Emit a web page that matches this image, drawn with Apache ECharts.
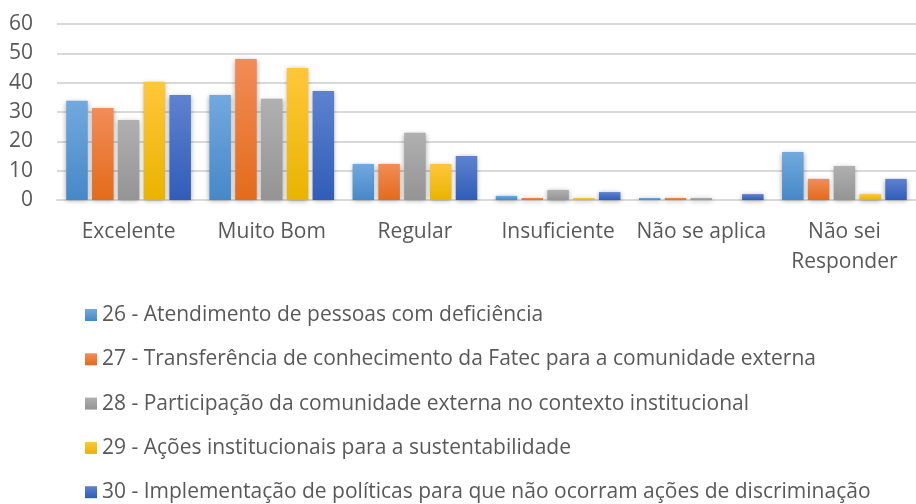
<!DOCTYPE html>
<html>
<head>
<meta charset="utf-8">
<script src="https://cdn.jsdelivr.net/npm/echarts@6/dist/echarts.min.js"></script>
<style>
    html, body { margin: 0; padding: 0; background: #fff; }
    #chart { width: 916px; height: 504px; }
</style>
</head>
<body>
<div id="chart"></div>
<script>
// categorias do eixo x
var categories = ['Excelente', 'Muito Bom', 'Regular', 'Insuficiente', 'Não se aplica', 'Não sei\nResponder'];

// nomes das séries (legenda)
var seriesNames = [
    '26 - Atendimento de pessoas com deficiência',
    '27 - Transferência de conhecimento da Fatec para a comunidade externa',
    '28 - Participação da comunidade externa no contexto institucional',
    '29 - Ações institucionais para a sustentabilidade',
    '30 - Implementação de políticas para que não ocorram ações de discriminação'
];

// valores
var q26 = [33.8, 35.8, 12.3, 1.4, 0.7, 16.4];
var q27 = [31.4, 48.1, 12.3, 0.7, 0.7, 7.2];
var q28 = [27.3, 34.5, 22.9, 3.4, 0.7, 11.6];
var q29 = [40.3, 45.0, 12.3, 0.7, 0, 2.0];
var q30 = [35.8, 37.2, 15.0, 2.7, 2.0, 7.2];

var yTicks = [0, 10, 20, 30, 40, 50, 60];

var seriesData = [q26, q27, q28, q29, q30];
// cores de cada série: topo e base do gradiente
var colorTop = ['#72a9de', '#f28c57', '#b0b0b0', '#ffc73a', '#5e82cf'];
var colorBottom = ['#4688c8', '#e36b1b', '#949494', '#e8b400', '#2f5db8'];

var FONT = 'Open Sans';

var chartDom = document.getElementById('chart');
var myChart = echarts.init(chartDom, null, {renderer: 'canvas'});

function gradient(i) {
    return new echarts.graphic.LinearGradient(0, 0, 0, 1, [
        {offset: 0, color: colorTop[i]},
        {offset: 1, color: colorBottom[i]}
    ]);
}

function buildSeries() {
    let list = [];
    for (let i = 0; i < seriesData.length; i++) {
        list.push({
            name: seriesNames[i],
            type: 'bar',
            data: seriesData[i],
            barWidth: 21.5,
            barGap: '20%',
            itemStyle: {
                color: gradient(i),
                shadowBlur: 5,
                shadowColor: 'rgba(0,0,0,0.35)',
                shadowOffsetY: 1
            }
        });
    }
    return list;
}

var option = {
    animation: false,
    backgroundColor: '#ffffff',
    textStyle: {fontFamily: FONT},
    grid: {
        left: 57,
        width: 866,
        top: 24,
        bottom: 304
    },
    legend: {
        orient: 'vertical',
        left: 80,
        top: 298,
        height: 210,
        itemWidth: 12,
        itemHeight: 12,
        itemGap: 20.3,
        icon: 'rect',
        data: seriesNames.map(function (n, i) {
            return {name: n, itemStyle: {color: gradient(i)}};
        }),
        textStyle: {
            fontFamily: FONT,
            fontSize: 21,
            lineHeight: 24,
            color: '#595959'
        }
    },
    xAxis: {
        type: 'category',
        data: categories,
        axisLine: {lineStyle: {color: '#d9d9d9', width: 2}},
        axisTick: {show: false},
        axisLabel: {
            color: '#595959',
            fontFamily: FONT,
            fontSize: 21,
            lineHeight: 30,
            margin: 17,
            interval: 0
        }
    },
    yAxis: {
        type: 'value',
        min: yTicks[0],
        max: yTicks[yTicks.length - 1],
        interval: 10,
        axisLine: {show: false},
        axisTick: {show: false},
        splitLine: {lineStyle: {color: '#d9d9d9', width: 2}},
        axisLabel: {
            color: '#595959',
            fontFamily: FONT,
            fontSize: 21,
            margin: 24
        }
    },
    series: buildSeries()
};

option && myChart.setOption(option);
</script>
</body>
</html>
